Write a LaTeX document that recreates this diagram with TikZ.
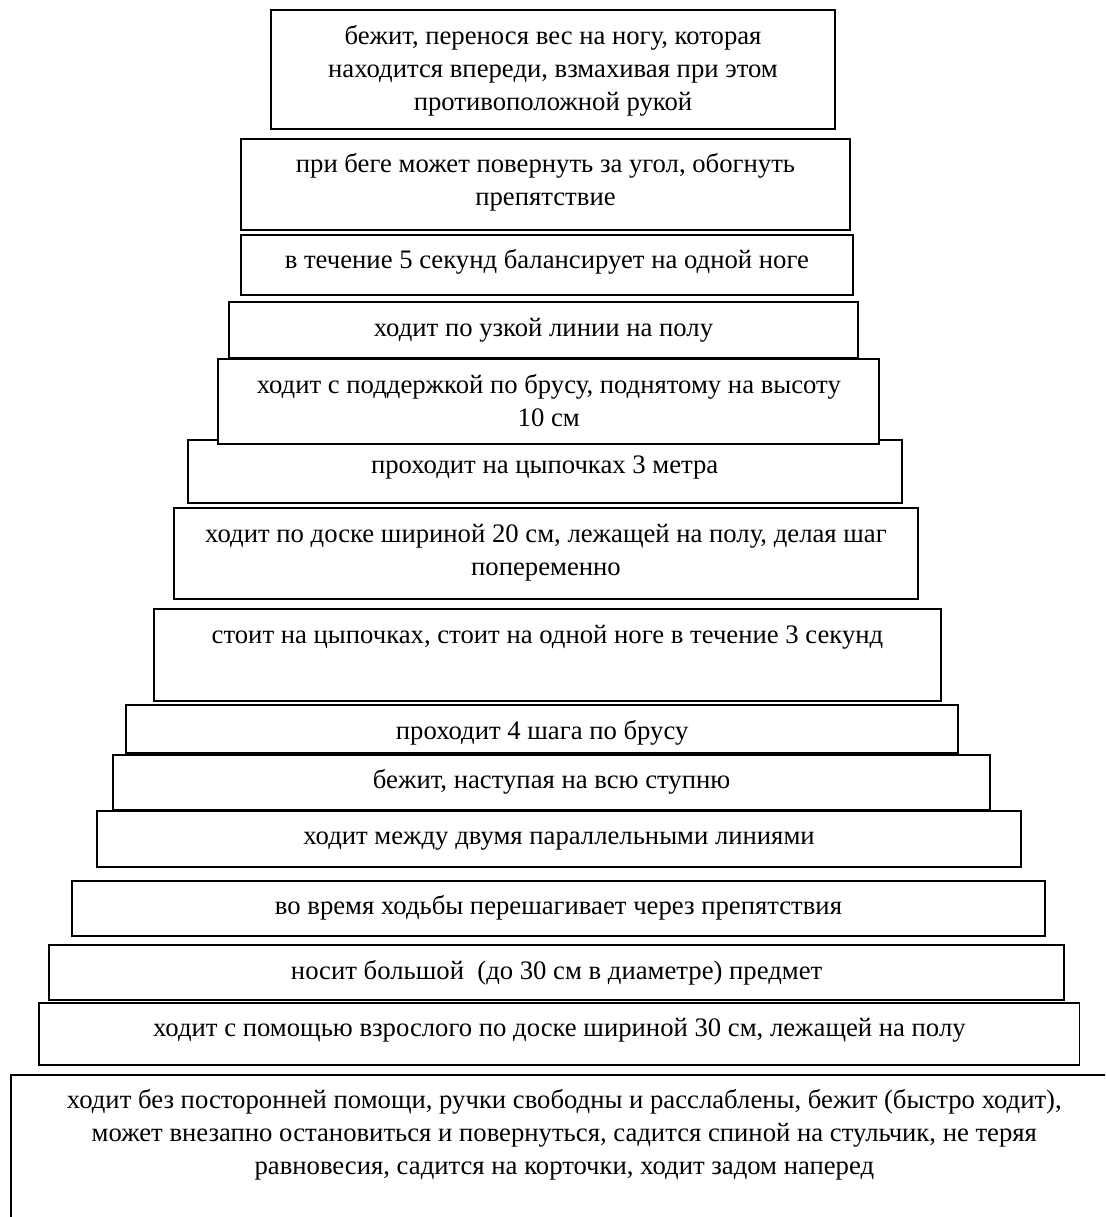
\documentclass[tikz,border=0pt]{standalone}
\usepackage{fontspec}
\setmainfont{Liberation Serif}
\usetikzlibrary{calc}
\newcommand\mystrut{\rule{0pt}{24pt}}
\begin{document}
\begin{tikzpicture}[x=1pt,y=-1pt,
  box/.style={draw=black, fill=white, line width=1.8pt, inner sep=0pt, outer sep=0pt, anchor=north west},
  txt/.style={anchor=north, inner sep=0pt, align=center, font=\fontsize{26.7}{33}\selectfont}]
\useasboundingbox (0,0) rectangle (1105,1217);
\clip (0,0) rectangle (1105,1217);
\newcommand\pbox[5]{\node[box, minimum width={(#4)-(#2)}, minimum height={(#5)-(#3)}] (#1) at (#2,#3) {};}
% boxes, bottom first
\pbox{b15}{10.7}{1074.7}{1118}{1240}
\pbox{b14}{39.3}{1002.7}{1079.5}{1065}
\pbox{b13}{49}{945}{1064.3}{1000.3}
\pbox{b12}{71.7}{880.7}{1045.3}{936}
\pbox{b11}{97}{810.7}{1021}{867}
\pbox{b10}{113.3}{754.7}{990}{809.7}
\pbox{b9}{126}{705}{958.3}{753.3}
\pbox{b8}{154.3}{609.3}{940.7}{701}
\pbox{b7}{173.7}{508.3}{918.3}{599.3}
\pbox{b6}{187.7}{439.7}{901.7}{502.7}
\pbox{b5}{218.3}{359.3}{879.3}{443.7}
\pbox{b4}{229.3}{302.3}{857.7}{357.7}
\pbox{b3}{241}{234.7}{852.7}{295}
\pbox{b2}{241}{138.7}{850}{229.7}
\pbox{b1}{271}{10}{835}{128.7}
% texts
\node[txt] (t1) at ($(b1.north)+(0,10)$) {\mystrut бежит, перенося вес на ногу, которая\\находится впереди, взмахивая при этом\\противоположной рукой};
\node[txt] (t2) at ($(b2.north)+(0,10)$) {\mystrut при беге может повернуть за угол, обогнуть\\препятствие};
\node[txt] (t3) at ($(b3.north)+(0,10)$) {\mystrut в течение 5 секунд балансирует на одной ноге};
\node[txt] (t4) at ($(b4.north)+(0,10)$) {\mystrut ходит по узкой линии на полу};
\node[txt] (t5) at ($(b5.north)+(0,10)$) {\mystrut ходит с поддержкой по брусу, поднятому на высоту\\10 см};
\node[txt] (t6) at ($(b6.north)+(0,10)$) {\mystrut проходит на цыпочках 3 метра};
\node[txt] (t7) at ($(b7.north)+(0,10)$) {\mystrut ходит по доске шириной 20 см, лежащей на полу, делая шаг\\попеременно};
\node[txt] (t8) at ($(b8.north)+(0,10)$) {\mystrut стоит на цыпочках, стоит на одной ноге в течение 3 секунд};
\node[txt] (t9) at ($(b9.north)+(0,10)$) {\mystrut проходит 4 шага по брусу};
\node[txt] (t10) at ($(b10.north)+(0,10)$) {\mystrut бежит, наступая на всю ступню};
\node[txt] (t11) at ($(b11.north)+(0,10)$) {\mystrut ходит между двумя параллельными линиями};
\node[txt] (t12) at ($(b12.north)+(0,10)$) {\mystrut во время ходьбы перешагивает через препятствия};
\node[txt] (t13) at ($(b13.north)+(0,10)$) {\mystrut носит большой\ \ (до 30 см в диаметре) предмет};
\node[txt] (t14) at ($(b14.north)+(0,10)$) {\mystrut ходит с помощью взрослого по доске шириной 30 см, лежащей на полу};
\node[txt] (t15) at ($(b15.north)+(0,10)$) {\mystrut ходит без посторонней помощи, ручки свободны и расслаблены, бежит (быстро ходит),\\может внезапно остановиться и повернуться, садится спиной на стульчик, не теряя\\равновесия, садится на корточки, ходит задом наперед};
\end{tikzpicture}
\end{document}
